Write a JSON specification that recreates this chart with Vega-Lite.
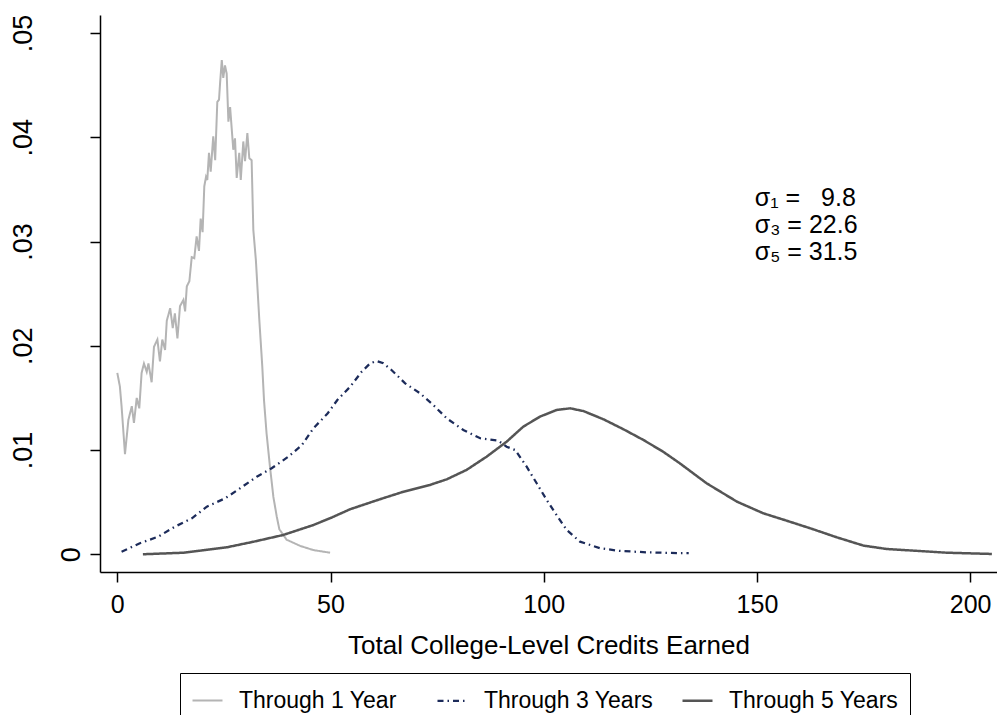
{
  "$schema": "https://vega.github.io/schema/vega-lite/v6.json",
  "width": 897,
  "height": 557,
  "autosize": {"type": "none"},
  "padding": {"left": 100, "top": 15, "right": 0, "bottom": 143},
  "background": "white",
  "config": {
    "view": {"stroke": null},
    "font": "Liberation Sans",
    "axis": {
      "grid": false,
      "domainColor": "black",
      "domainWidth": 1.5,
      "tickColor": "black",
      "tickWidth": 1.5,
      "tickSize": 10,
      "labelColor": "black",
      "titleColor": "black",
      "labelFont": "Liberation Sans",
      "titleFont": "Liberation Sans",
      "titleFontWeight": "normal"
    }
  },
  "resolve": {"axis": {"y": "independent"}},
  "layer": [
    {
      "data": {
        "values": [
          {"series": "Through 1 Year", "credits": 0.0, "density": 0.0174},
          {"series": "Through 1 Year", "credits": 0.6, "density": 0.0161},
          {"series": "Through 1 Year", "credits": 1.0, "density": 0.0142},
          {"series": "Through 1 Year", "credits": 1.8, "density": 0.0096},
          {"series": "Through 1 Year", "credits": 2.6, "density": 0.0129},
          {"series": "Through 1 Year", "credits": 3.4, "density": 0.0142},
          {"series": "Through 1 Year", "credits": 3.9, "density": 0.0126},
          {"series": "Through 1 Year", "credits": 4.55, "density": 0.0150},
          {"series": "Through 1 Year", "credits": 5.15, "density": 0.0140},
          {"series": "Through 1 Year", "credits": 5.7, "density": 0.0174},
          {"series": "Through 1 Year", "credits": 6.25, "density": 0.0183},
          {"series": "Through 1 Year", "credits": 6.9, "density": 0.0175},
          {"series": "Through 1 Year", "credits": 7.3, "density": 0.0183},
          {"series": "Through 1 Year", "credits": 8.05, "density": 0.0165},
          {"series": "Through 1 Year", "credits": 8.6, "density": 0.0199},
          {"series": "Through 1 Year", "credits": 9.4, "density": 0.0206},
          {"series": "Through 1 Year", "credits": 10.0, "density": 0.0185},
          {"series": "Through 1 Year", "credits": 10.55, "density": 0.0206},
          {"series": "Through 1 Year", "credits": 11.2, "density": 0.0196},
          {"series": "Through 1 Year", "credits": 11.6, "density": 0.0224},
          {"series": "Through 1 Year", "credits": 12.4, "density": 0.0236},
          {"series": "Through 1 Year", "credits": 13.0, "density": 0.0217},
          {"series": "Through 1 Year", "credits": 13.5, "density": 0.0231},
          {"series": "Through 1 Year", "credits": 14.1, "density": 0.0207},
          {"series": "Through 1 Year", "credits": 14.7, "density": 0.0238},
          {"series": "Through 1 Year", "credits": 15.5, "density": 0.0244},
          {"series": "Through 1 Year", "credits": 15.9, "density": 0.0233},
          {"series": "Through 1 Year", "credits": 16.3, "density": 0.0257},
          {"series": "Through 1 Year", "credits": 16.9, "density": 0.0262},
          {"series": "Through 1 Year", "credits": 17.45, "density": 0.0285},
          {"series": "Through 1 Year", "credits": 18.05, "density": 0.0284},
          {"series": "Through 1 Year", "credits": 18.6, "density": 0.0305},
          {"series": "Through 1 Year", "credits": 19.15, "density": 0.0291},
          {"series": "Through 1 Year", "credits": 19.55, "density": 0.0322},
          {"series": "Through 1 Year", "credits": 20.0, "density": 0.0309},
          {"series": "Through 1 Year", "credits": 20.4, "density": 0.0353},
          {"series": "Through 1 Year", "credits": 20.8, "density": 0.0362},
          {"series": "Through 1 Year", "credits": 21.1, "density": 0.0359},
          {"series": "Through 1 Year", "credits": 21.5, "density": 0.0385},
          {"series": "Through 1 Year", "credits": 21.9, "density": 0.0367},
          {"series": "Through 1 Year", "credits": 22.5, "density": 0.0401},
          {"series": "Through 1 Year", "credits": 22.95, "density": 0.0378},
          {"series": "Through 1 Year", "credits": 23.45, "density": 0.0434},
          {"series": "Through 1 Year", "credits": 23.85, "density": 0.0436},
          {"series": "Through 1 Year", "credits": 24.1, "density": 0.0452},
          {"series": "Through 1 Year", "credits": 24.5, "density": 0.0474},
          {"series": "Through 1 Year", "credits": 24.85, "density": 0.0457},
          {"series": "Through 1 Year", "credits": 25.25, "density": 0.0469},
          {"series": "Through 1 Year", "credits": 25.65, "density": 0.0461},
          {"series": "Through 1 Year", "credits": 26.05, "density": 0.0415},
          {"series": "Through 1 Year", "credits": 26.45, "density": 0.0429},
          {"series": "Through 1 Year", "credits": 27.2, "density": 0.0388},
          {"series": "Through 1 Year", "credits": 27.6, "density": 0.0399},
          {"series": "Through 1 Year", "credits": 28.0, "density": 0.0361},
          {"series": "Through 1 Year", "credits": 28.6, "density": 0.0385},
          {"series": "Through 1 Year", "credits": 28.95, "density": 0.0359},
          {"series": "Through 1 Year", "credits": 29.55, "density": 0.0396},
          {"series": "Through 1 Year", "credits": 29.95, "density": 0.0377},
          {"series": "Through 1 Year", "credits": 30.5, "density": 0.0404},
          {"series": "Through 1 Year", "credits": 30.95, "density": 0.0380},
          {"series": "Through 1 Year", "credits": 31.5, "density": 0.0378},
          {"series": "Through 1 Year", "credits": 31.9, "density": 0.0311},
          {"series": "Through 1 Year", "credits": 32.5, "density": 0.0282},
          {"series": "Through 1 Year", "credits": 33.3, "density": 0.0225},
          {"series": "Through 1 Year", "credits": 34.0, "density": 0.0180},
          {"series": "Through 1 Year", "credits": 34.4, "density": 0.0148},
          {"series": "Through 1 Year", "credits": 35.0, "density": 0.0116},
          {"series": "Through 1 Year", "credits": 35.8, "density": 0.0084},
          {"series": "Through 1 Year", "credits": 36.6, "density": 0.0055},
          {"series": "Through 1 Year", "credits": 37.4, "density": 0.0036},
          {"series": "Through 1 Year", "credits": 38.0, "density": 0.0024},
          {"series": "Through 1 Year", "credits": 39.7, "density": 0.0014},
          {"series": "Through 1 Year", "credits": 42.9, "density": 0.0008},
          {"series": "Through 1 Year", "credits": 46.0, "density": 0.0004},
          {"series": "Through 1 Year", "credits": 49.9, "density": 0.00015},

          {"series": "Through 3 Years", "credits": 1.0, "density": 0.00025},
          {"series": "Through 3 Years", "credits": 5.3, "density": 0.00106},
          {"series": "Through 3 Years", "credits": 9.6, "density": 0.00169},
          {"series": "Through 3 Years", "credits": 13.5, "density": 0.00265},
          {"series": "Through 3 Years", "credits": 17.5, "density": 0.00345},
          {"series": "Through 3 Years", "credits": 21.0, "density": 0.00457},
          {"series": "Through 3 Years", "credits": 25.3, "density": 0.00537},
          {"series": "Through 3 Years", "credits": 28.8, "density": 0.00633},
          {"series": "Through 3 Years", "credits": 32.7, "density": 0.00744},
          {"series": "Through 3 Years", "credits": 36.2, "density": 0.00825},
          {"series": "Through 3 Years", "credits": 40.1, "density": 0.00936},
          {"series": "Through 3 Years", "credits": 43.3, "density": 0.01048},
          {"series": "Through 3 Years", "credits": 46.0, "density": 0.01209},
          {"series": "Through 3 Years", "credits": 49.3, "density": 0.0135},
          {"series": "Through 3 Years", "credits": 51.6, "density": 0.0148},
          {"series": "Through 3 Years", "credits": 54.6, "density": 0.01607},
          {"series": "Through 3 Years", "credits": 57.3, "density": 0.01751},
          {"series": "Through 3 Years", "credits": 59.3, "density": 0.01832},
          {"series": "Through 3 Years", "credits": 60.8, "density": 0.01854},
          {"series": "Through 3 Years", "credits": 62.4, "density": 0.01832},
          {"series": "Through 3 Years", "credits": 64.3, "density": 0.01768},
          {"series": "Through 3 Years", "credits": 67.5, "density": 0.0164},
          {"series": "Through 3 Years", "credits": 71.0, "density": 0.01544},
          {"series": "Through 3 Years", "credits": 74.1, "density": 0.01432},
          {"series": "Through 3 Years", "credits": 77.25, "density": 0.01304},
          {"series": "Through 3 Years", "credits": 81.15, "density": 0.01192},
          {"series": "Through 3 Years", "credits": 85.1, "density": 0.01113},
          {"series": "Through 3 Years", "credits": 89.35, "density": 0.0109},
          {"series": "Through 3 Years", "credits": 91.3, "density": 0.01032},
          {"series": "Through 3 Years", "credits": 93.3, "density": 0.0100},
          {"series": "Through 3 Years", "credits": 96.0, "density": 0.0084},
          {"series": "Through 3 Years", "credits": 98.35, "density": 0.00681},
          {"series": "Through 3 Years", "credits": 100.7, "density": 0.00521},
          {"series": "Through 3 Years", "credits": 103.0, "density": 0.00377},
          {"series": "Through 3 Years", "credits": 105.4, "density": 0.00233},
          {"series": "Through 3 Years", "credits": 108.5, "density": 0.00121},
          {"series": "Through 3 Years", "credits": 113.2, "density": 0.00058},
          {"series": "Through 3 Years", "credits": 117.9, "density": 0.00032},
          {"series": "Through 3 Years", "credits": 124.1, "density": 0.00019},
          {"series": "Through 3 Years", "credits": 132.0, "density": 0.0001},
          {"series": "Through 3 Years", "credits": 134.0, "density": 0.0001},

          {"series": "Through 5 Years", "credits": 6.0, "density": 0.0},
          {"series": "Through 5 Years", "credits": 15.5, "density": 0.00015},
          {"series": "Through 5 Years", "credits": 25.7, "density": 0.00067},
          {"series": "Through 5 Years", "credits": 32.0, "density": 0.00121},
          {"series": "Through 5 Years", "credits": 38.9, "density": 0.00185},
          {"series": "Through 5 Years", "credits": 46.0, "density": 0.00281},
          {"series": "Through 5 Years", "credits": 50.3, "density": 0.00353},
          {"series": "Through 5 Years", "credits": 54.6, "density": 0.00432},
          {"series": "Through 5 Years", "credits": 57.0, "density": 0.00465},
          {"series": "Through 5 Years", "credits": 61.6, "density": 0.00528},
          {"series": "Through 5 Years", "credits": 67.1, "density": 0.0060},
          {"series": "Through 5 Years", "credits": 73.3, "density": 0.00665},
          {"series": "Through 5 Years", "credits": 77.25, "density": 0.00719},
          {"series": "Through 5 Years", "credits": 81.9, "density": 0.00809},
          {"series": "Through 5 Years", "credits": 86.6, "density": 0.00936},
          {"series": "Through 5 Years", "credits": 91.3, "density": 0.0108},
          {"series": "Through 5 Years", "credits": 95.2, "density": 0.01224},
          {"series": "Through 5 Years", "credits": 99.1, "density": 0.0132},
          {"series": "Through 5 Years", "credits": 103.0, "density": 0.01384},
          {"series": "Through 5 Years", "credits": 106.2, "density": 0.0140},
          {"series": "Through 5 Years", "credits": 109.3, "density": 0.01374},
          {"series": "Through 5 Years", "credits": 114.0, "density": 0.01295},
          {"series": "Through 5 Years", "credits": 118.7, "density": 0.01199},
          {"series": "Through 5 Years", "credits": 123.4, "density": 0.01096},
          {"series": "Through 5 Years", "credits": 128.0, "density": 0.00984},
          {"series": "Through 5 Years", "credits": 131.9, "density": 0.00873},
          {"series": "Through 5 Years", "credits": 138.2, "density": 0.00681},
          {"series": "Through 5 Years", "credits": 145.3, "density": 0.00505},
          {"series": "Through 5 Years", "credits": 151.5, "density": 0.00393},
          {"series": "Through 5 Years", "credits": 157.0, "density": 0.00322},
          {"series": "Through 5 Years", "credits": 163.2, "density": 0.0024},
          {"series": "Through 5 Years", "credits": 168.7, "density": 0.00163},
          {"series": "Through 5 Years", "credits": 175.0, "density": 0.00083},
          {"series": "Through 5 Years", "credits": 180.4, "density": 0.00051},
          {"series": "Through 5 Years", "credits": 186.7, "density": 0.00035},
          {"series": "Through 5 Years", "credits": 194.5, "density": 0.00015},
          {"series": "Through 5 Years", "credits": 205.1, "density": 0.00003}
        ]
      },
      "mark": {"type": "line", "interpolate": "linear"},
      "encoding": {
        "x": {
          "field": "credits",
          "type": "quantitative",
          "scale": {"domain": [-4.06, 206.3], "nice": false, "zero": false},
          "axis": {
            "values": [0, 50, 100, 150, 200],
            "labelFontSize": 25,
            "labelPadding": 10,
            "title": "Total College-Level Credits Earned",
            "titleFontSize": 26,
            "titleBaseline": "alphabetic",
            "titleY": 81
          }
        },
        "y": {
          "field": "density",
          "type": "quantitative",
          "scale": {"domain": [-0.0017, 0.05173], "nice": false, "zero": false},
          "axis": {
            "orient": "left",
            "values": [0, 0.01, 0.02, 0.03, 0.04, 0.05],
            "title": null,
            "labelFontSize": 27,
            "labelAngle": -90,
            "labelAlign": "center",
            "labelBaseline": "middle",
            "labelPadding": 67,
            "labelExpr": "datum.value == 0 ? '' : replace(format(datum.value, '.2f'), '0.', '.')"
          }
        },
        "color": {
          "field": "series",
          "type": "nominal",
          "scale": {
            "domain": ["Through 1 Year", "Through 3 Years", "Through 5 Years"],
            "range": ["#b4b4b4", "#1c2b5a", "#555555"]
          },
          "legend": {
            "title": null,
            "orient": "none",
            "legendX": 80,
            "legendY": 658,
            "direction": "horizontal",
            "columns": 3,
            "gridAlign": "all",
            "columnPadding": 23,
            "padding": 11,
            "strokeColor": "black",
            "symbolType": "stroke",
            "symbolSize": 900,
            "symbolStrokeWidth": 2,
            "labelFont": "Liberation Sans",
            "labelFontSize": 23,
            "labelColor": "black",
            "labelOffset": 15,
            "labelLimit": 400
          }
        },
        "strokeDash": {
          "field": "series",
          "type": "nominal",
          "scale": {
            "domain": ["Through 1 Year", "Through 3 Years", "Through 5 Years"],
            "range": [[1, 0], [6, 4, 1.5, 4], [1, 0]]
          }
        },
        "strokeWidth": {
          "field": "series",
          "type": "nominal",
          "scale": {
            "domain": ["Through 1 Year", "Through 3 Years", "Through 5 Years"],
            "range": [2, 2.5, 2]
          },
          "legend": null
        }
      }
    },
    {
      "data": {"values": [{}]},
      "mark": {
        "type": "text",
        "text": ["σ₁ = \u00a0\u00a09.8", "σ₃ = 22.6", "σ₅ = 31.5"],
        "align": "left",
        "baseline": "alphabetic",
        "font": "Liberation Sans",
        "fontSize": 25,
        "lineHeight": 27,
        "color": "black"
      },
      "encoding": {
        "x": {"datum": 149.5, "type": "quantitative"},
        "y": {
          "datum": 0.0334,
          "type": "quantitative",
          "axis": {
            "orient": "left",
            "values": [0],
            "title": null,
            "domain": false,
            "ticks": false,
            "labelFontSize": 27,
            "labelAngle": -90,
            "labelAlign": "center",
            "labelBaseline": "middle",
            "labelPadding": 29,
            "labelExpr": "'0'"
          }
        }
      }
    }
  ]
}
